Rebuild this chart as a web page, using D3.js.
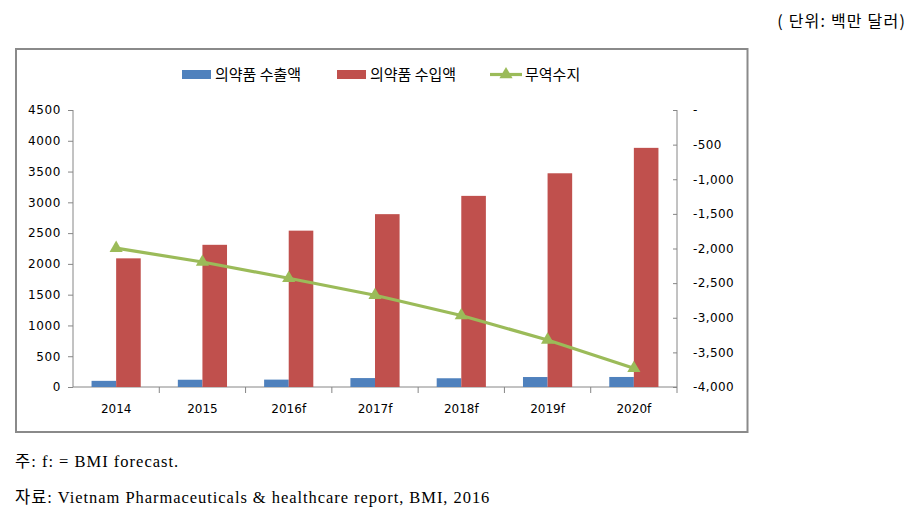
<!DOCTYPE html>
<html><head><meta charset="utf-8">
<script src="https://cdn.jsdelivr.net/npm/d3@7"></script>
<style>
html,body{margin:0;padding:0;background:#fff;}
svg{display:block;}
</style></head>
<body>
<svg id="c" width="920" height="517"></svg>
<script>
const categories = ["2014","2015","2016f","2017f","2018f","2019f","2020f"];
const exportValues = [100, 118, 120, 145, 142, 162, 163];
const importValues = [2090, 2310, 2540, 2808, 3105, 3472, 3885];
const balanceValues = [-1995, -2195, -2430, -2675, -2968, -3320, -3730];
const leftTicks = [0,500,1000,1500,2000,2500,3000,3500,4000,4500];
const rightTicks = [0,-500,-1000,-1500,-2000,-2500,-3000,-3500,-4000];
const seriesNames = ["의약품 수출액","의약품 수입액","무역수지"];
const colors = ["#4F81BD","#C0504D","#9BBB59"];

const svg = d3.select("#c");
const axisCol = "#868686";
const numFont = "'DejaVu Sans', Verdana, sans-serif";
const krFont = "'Noto Sans CJK KR', sans-serif";
const serifFont = "'Liberation Serif', 'Noto Sans CJK KR', serif";

// unit text
svg.append("text").attr("x", 906).attr("y", 27).attr("text-anchor","end")
  .attr("font-family", "'Noto Sans CJK KR', sans-serif").attr("font-size", 16)
  .attr("letter-spacing", 1.2)
  .attr("fill","#000").text("( 단위: 백만 달러)");

// chart border
svg.append("rect").attr("x",16).attr("y",49).attr("width",731.5).attr("height",383)
  .attr("fill","#fff").attr("stroke","#8a8a8a").attr("stroke-width",2);

const x = d3.scaleBand().domain(categories).range([73,677]).padding(0);
const yL = d3.scaleLinear().domain([0,4500]).range([387,110]);
const yR = d3.scaleLinear().domain([-4000,0]).range([387,110]);
const bw = x.bandwidth()*0.285;

// left axis
const gL = svg.append("g").attr("transform","translate(73,0)")
  .call(d3.axisLeft(yL).tickValues(leftTicks).tickSize(5).tickPadding(7).tickFormat(d3.format("d")));
gL.selectAll("path,line").attr("stroke",axisCol);
gL.select("path").attr("d","M0,110V387");
gL.selectAll("text").attr("font-family",numFont).attr("font-size",12).attr("fill","#000")
  .attr("letter-spacing",0.6);

// right axis
const fmtR = d => d === 0 ? "-" : d3.format(",")(d).replace("\u2212","-");
const gR = svg.append("g").attr("transform","translate(677,0)")
  .call(d3.axisRight(yR).tickValues(rightTicks).tickSize(-4).tickPadding(16).tickFormat(fmtR));
gR.selectAll("path,line").attr("stroke",axisCol);
gR.select("path").attr("d","M0,110V387");
gR.selectAll("text").attr("font-family",numFont).attr("font-size",12).attr("fill","#000")
  .attr("letter-spacing",0.4);

// bottom axis
const gB = svg.append("g").attr("transform","translate(0,387)")
  .call(d3.axisBottom(x).tickSize(0).tickPadding(17));
gB.select("path").attr("stroke",axisCol).attr("d","M73,0H677");
gB.selectAll("text").attr("font-family",numFont).attr("font-size",12).attr("fill","#000");
// category boundary ticks
const bounds = categories.map(c => x(c)).slice(1).concat([x(categories[categories.length-1]) + x.bandwidth()]);
svg.append("g").selectAll("line").data(bounds).join("line")
  .attr("x1",d=>d).attr("x2",d=>d)
  .attr("y1",387).attr("y2",393).attr("stroke",axisCol);

// bars
svg.append("g").selectAll("rect").data(exportValues).join("rect")
  .attr("x",(d,i)=> x(categories[i]) + x.bandwidth()/2 - bw)
  .attr("y",d=>yL(d)).attr("width",bw).attr("height",d=>yL(0)-yL(d))
  .attr("fill",colors[0]);
svg.append("g").selectAll("rect").data(importValues).join("rect")
  .attr("x",(d,i)=> x(categories[i]) + x.bandwidth()/2)
  .attr("y",d=>yL(d)).attr("width",bw).attr("height",d=>yL(0)-yL(d))
  .attr("fill",colors[1]);

// line
const line = d3.line().x((d,i)=> x(categories[i]) + x.bandwidth()/2).y(d=>yR(d));
svg.append("path").datum(balanceValues).attr("d",line)
  .attr("fill","none").attr("stroke",colors[2]).attr("stroke-width",3.2);
const tri = d3.symbol().type(d3.symbolTriangle).size(75);
svg.append("g").selectAll("path").data(balanceValues).join("path")
  .attr("transform",(d,i)=>`translate(${x(categories[i]) + x.bandwidth()/2},${yR(d)})`)
  .attr("d",tri).attr("fill",colors[2]);

// legend
const lg = svg.append("g");
lg.append("rect").attr("x",182).attr("y",70).attr("width",29).attr("height",9).attr("fill",colors[0]);
lg.append("text").attr("x",215).attr("y",80).attr("font-family",krFont).attr("font-size",15).text(seriesNames[0]);
lg.append("rect").attr("x",337).attr("y",70).attr("width",29).attr("height",9).attr("fill",colors[1]);
lg.append("text").attr("x",370).attr("y",80).attr("font-family",krFont).attr("font-size",15).text(seriesNames[1]);
lg.append("line").attr("x1",490).attr("x2",522).attr("y1",74.5).attr("y2",74.5).attr("stroke",colors[2]).attr("stroke-width",3.2);
lg.append("path").attr("transform","translate(506,74.5)").attr("d",tri).attr("fill",colors[2]);
lg.append("text").attr("x",525).attr("y",80).attr("font-family",krFont).attr("font-size",15).text(seriesNames[2]);

// footnotes
svg.append("text").attr("x",15).attr("y",467).attr("font-family",serifFont).attr("font-size",16.5)
  .attr("letter-spacing",1.0).text("주: f: = BMI forecast.");
svg.append("text").attr("x",15).attr("y",503).attr("font-family",serifFont).attr("font-size",16.5)
  .attr("letter-spacing",0.95).text("자료: Vietnam Pharmaceuticals & healthcare report, BMI, 2016");
</script>
</body></html>
